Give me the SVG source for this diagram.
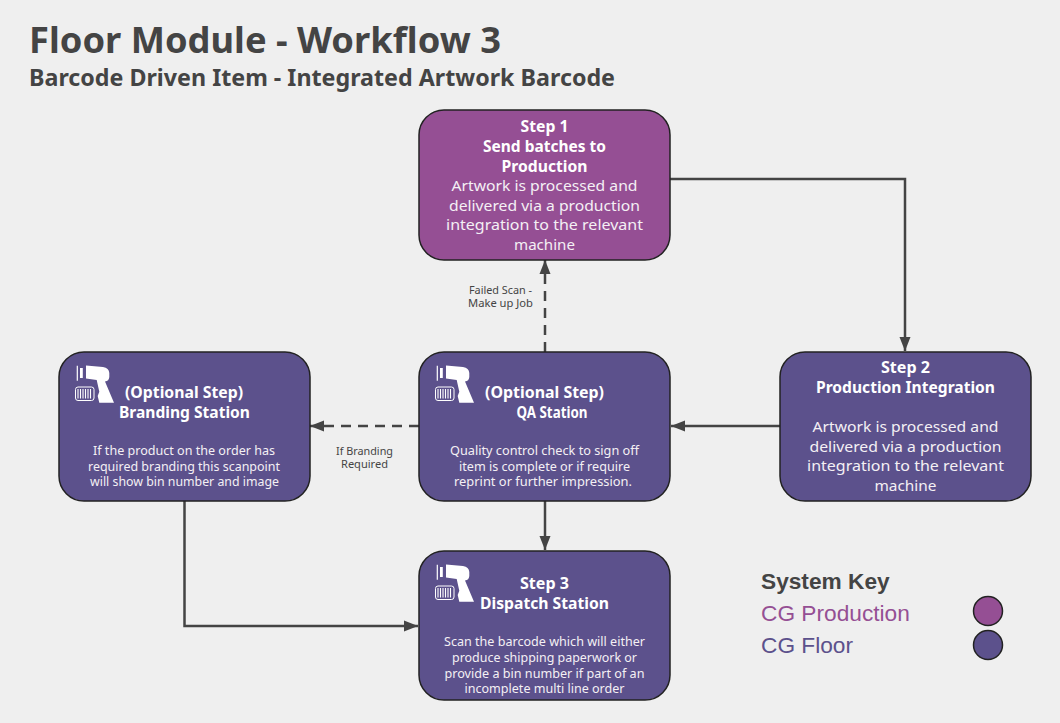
<svg xmlns="http://www.w3.org/2000/svg" xmlns:xlink="http://www.w3.org/1999/xlink" width="1060" height="723" viewBox="0 0 1060 723">
<style>
text{font-family:"Noto Sans","Open Sans",sans-serif;text-anchor:middle}
.box{stroke:#222;stroke-width:1.5}
.purple{fill:#954f94}
.blue{fill:#5c518c}
.h{fill:#fff;font-weight:700;font-size:15.3px}
.b{fill:#f4f0f4;font-size:15.3px}
.s{fill:#f4f0f4;font-size:12.5px}
.l{fill:#444;font-size:10.5px}
.t{fill:#444;font-weight:700;text-anchor:start}
.k{font-family:"Liberation Sans",Arial,sans-serif;font-size:22.700px;text-anchor:start}
.c{fill:none;stroke:#444;stroke-width:2.500}
.d{stroke-dasharray:10 7}
</style>
<defs>
<marker id="a" markerUnits="userSpaceOnUse" markerWidth="15" markerHeight="12" refX="14" refY="6" orient="auto"><path d="M0 0.500L14 6L0 11.500Z" fill="#444"/></marker>
<g id="scan">
<path fill="#fff" d="M21 10.500L38 12Q44 13 44.300 18V22Q44 26 40 26.500L49 47.700H34.300L32.700 41L34.300 36.700L31.700 25L21 23.500Z"/>
<path fill="#fff" d="M11.700 10.700h1.200v15h-1.200zM15 13h2.800v10h-2.800z"/>
<rect x="10.500" y="32" width="18.500" height="13.500" rx="2.500" fill="none" stroke="#fff" stroke-width="1"/>
<path stroke="#fff" stroke-width="1.100" d="M13 34v9.500M15.500 34v9.500M18 34v9.500M20.500 34v9.500M23 34v9.500M25.500 34v9.500"/>
</g>
</defs>
<rect width="1060" height="723" fill="#efefef"/>
<text class="t" x="29" y="52.500" font-size="36" textLength="472" lengthAdjust="spacingAndGlyphs">Floor Module - Workflow 3</text>
<text class="t" x="29" y="85.500" font-size="22.500" textLength="586" lengthAdjust="spacingAndGlyphs">Barcode Driven Item - Integrated Artwork Barcode</text>
<g id="connectors">
<path class="c" marker-end="url(#a)" d="M670 179H905V351"/>
<path class="c d" marker-end="url(#a)" d="M545 352V260"/>
<path class="c" marker-end="url(#a)" d="M780 426H671"/>
<path class="c d" marker-end="url(#a)" d="M419 426H310"/>
<path class="c" marker-end="url(#a)" d="M545 501V550"/>
<path class="c" marker-end="url(#a)" d="M184.500 501V626H418"/>
</g>
<g id="label-failed-scan">
<text class="l" x="500.500" y="294" textLength="63" lengthAdjust="spacingAndGlyphs">Failed Scan -</text>
<text class="l" x="500.500" y="307" textLength="65" lengthAdjust="spacingAndGlyphs">Make up Job</text>
</g>
<g id="label-if-branding">
<text class="l" x="364.500" y="455" textLength="57" lengthAdjust="spacingAndGlyphs">If Branding</text>
<text class="l" x="364.500" y="468" textLength="47" lengthAdjust="spacingAndGlyphs">Required</text>
</g>
<g id="step1">
<rect class="box purple" x="419" y="110" width="251" height="150" rx="25"/>
<text class="h" x="544.500" y="132.400" textLength="48" lengthAdjust="spacingAndGlyphs">Step 1</text>
<text class="h" x="544.500" y="152" textLength="123" lengthAdjust="spacingAndGlyphs">Send batches to</text>
<text class="h" x="544.500" y="171.600" textLength="86" lengthAdjust="spacingAndGlyphs">Production</text>
<text class="b" x="544.500" y="191.200" textLength="186" lengthAdjust="spacingAndGlyphs">Artwork is processed and</text>
<text class="b" x="544.500" y="210.800" textLength="191" lengthAdjust="spacingAndGlyphs">delivered via a production</text>
<text class="b" x="544.500" y="230.400" textLength="197" lengthAdjust="spacingAndGlyphs">integration to the relevant</text>
<text class="b" x="544.500" y="250" textLength="61" lengthAdjust="spacingAndGlyphs">machine</text>
</g>
<g id="step2">
<rect class="box blue" x="780" y="352" width="251" height="149" rx="25"/>
<text class="h" x="905.500" y="373.400" textLength="49" lengthAdjust="spacingAndGlyphs">Step 2</text>
<text class="h" x="905.500" y="393" textLength="179" lengthAdjust="spacingAndGlyphs">Production Integration</text>
<text class="b" x="905.500" y="432.200" textLength="186" lengthAdjust="spacingAndGlyphs">Artwork is processed and</text>
<text class="b" x="905.500" y="451.800" textLength="192" lengthAdjust="spacingAndGlyphs">delivered via a production</text>
<text class="b" x="905.500" y="471.400" textLength="197" lengthAdjust="spacingAndGlyphs">integration to the relevant</text>
<text class="b" x="905.500" y="491" textLength="62" lengthAdjust="spacingAndGlyphs">machine</text>
</g>
<g id="qa-station">
<rect class="box blue" x="419" y="352" width="251" height="149" rx="25"/>
<use xlink:href="#scan" href="#scan" x="425" y="355"/>
<text class="h" x="544.500" y="398.400" textLength="119" lengthAdjust="spacingAndGlyphs">(Optional Step)</text>
<text class="h" x="552" y="418" textLength="71" lengthAdjust="spacingAndGlyphs">QA Station</text>
<text class="s" x="544.500" y="455" textLength="189" lengthAdjust="spacingAndGlyphs">Quality control check to sign off</text>
<text class="s" x="544.500" y="471" textLength="171" lengthAdjust="spacingAndGlyphs">item is complete or if require</text>
<text class="s" x="543" y="486" textLength="178" lengthAdjust="spacingAndGlyphs">reprint or further impression.</text>
</g>
<g id="branding-station">
<rect class="box blue" x="59" y="352" width="251" height="149" rx="25"/>
<use xlink:href="#scan" href="#scan" x="65" y="355"/>
<text class="h" x="184" y="398.400" textLength="118" lengthAdjust="spacingAndGlyphs">(Optional Step)</text>
<text class="h" x="184.500" y="418" textLength="131" lengthAdjust="spacingAndGlyphs">Branding Station</text>
<text class="s" x="184" y="455" textLength="182" lengthAdjust="spacingAndGlyphs">If the product on the order has</text>
<text class="s" x="184" y="471" textLength="192" lengthAdjust="spacingAndGlyphs">required branding this scanpoint</text>
<text class="s" x="184.500" y="486" textLength="189" lengthAdjust="spacingAndGlyphs">will show bin number and image</text>
</g>
<g id="dispatch-station">
<rect class="box blue" x="419" y="551" width="251" height="149" rx="25"/>
<use xlink:href="#scan" href="#scan" x="425" y="554"/>
<text class="h" x="544.500" y="589.400" textLength="49" lengthAdjust="spacingAndGlyphs">Step 3</text>
<text class="h" x="544.500" y="609" textLength="129" lengthAdjust="spacingAndGlyphs">Dispatch Station</text>
<text class="s" x="544.500" y="646" textLength="201" lengthAdjust="spacingAndGlyphs">Scan the barcode which will either</text>
<text class="s" x="544.500" y="662" textLength="185" lengthAdjust="spacingAndGlyphs">produce shipping paperwork or</text>
<text class="s" x="544.500" y="678" textLength="200" lengthAdjust="spacingAndGlyphs">provide a bin number if part of an</text>
<text class="s" x="544.500" y="693" textLength="160" lengthAdjust="spacingAndGlyphs">incomplete multi line order</text>
</g>
<g id="system-key">
<text class="k" x="761" y="589" font-weight="700" fill="#444">System Key</text>
<text class="k" x="761" y="621" fill="#954f94">CG Production</text>
<text class="k" x="761" y="652.500" fill="#5c518c">CG Floor</text>
<circle class="box purple" cx="988" cy="611" r="14.500"/>
<circle class="box blue" cx="988" cy="645" r="14.500"/>
</g>
</svg>
